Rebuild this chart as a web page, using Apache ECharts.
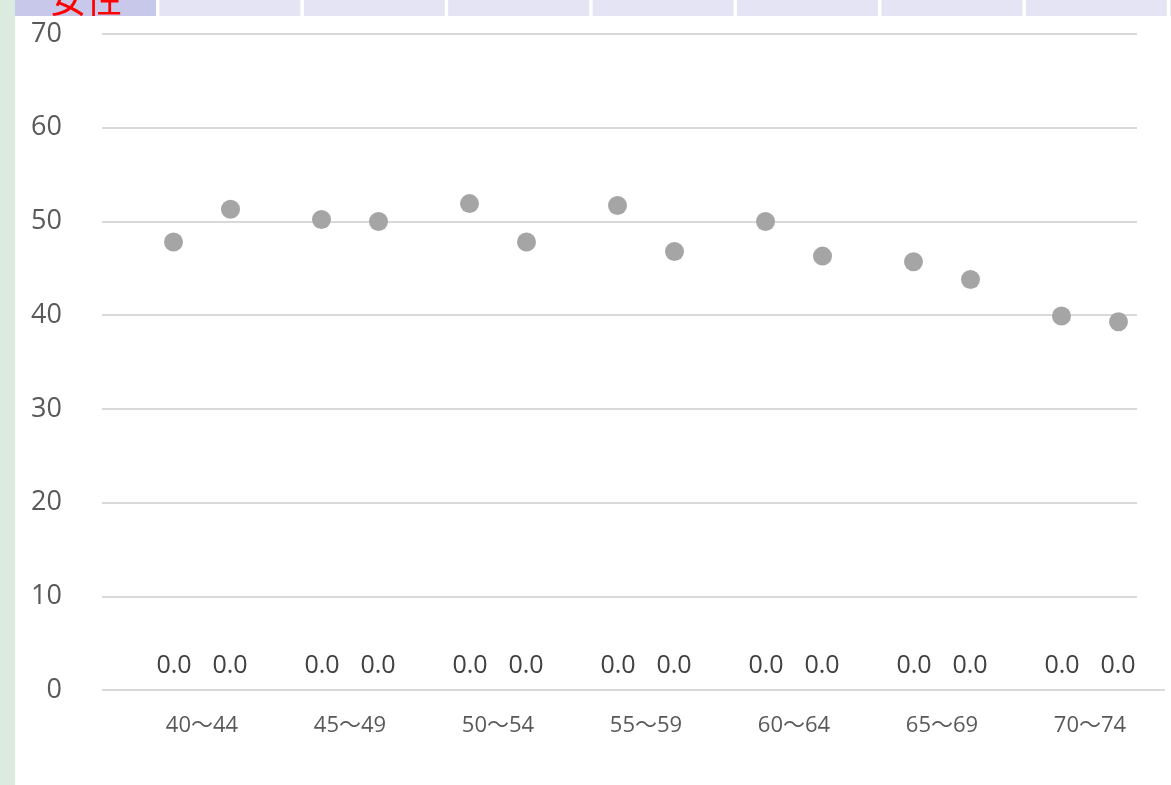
<!DOCTYPE html>
<html>
<head>
<meta charset="utf-8">
<script src="https://cdn.jsdelivr.net/npm/echarts@6/dist/echarts.min.js"></script>
<style>
html, body { margin: 0; padding: 0; background: #fff; }
#main { width: 1171px; height: 785px; }
</style>
</head>
<body>
<div id="main"></div>
<script>
// 年齢階級
var categories = ['40〜44', '45〜49', '50〜54', '55〜59', '60〜64', '65〜69', '70〜74'];
// left / right dot of each age group
var seriesA = [47.8, 50.2, 51.9, 51.7, 50.0, 45.7, 39.9];
var seriesB = [51.3, 50.0, 47.8, 46.8, 46.3, 43.8, 39.3];
// the "0.0" labels sitting on the axis
var zeroA = [0, 0, 0, 0, 0, 0, 0];
var zeroB = [0, 0, 0, 0, 0, 0, 0];
var yTicks = { min: 0, max: 70, interval: 10 };
var headerTitle = '女性';

var font = '"Open Sans", "Noto Sans CJK JP", sans-serif';
var myChart = echarts.init(document.getElementById('main'));

// header strip like the spreadsheet tabs
var graphics = [{
    type: 'rect', shape: { x: 0, y: 0, width: 15, height: 785 },
    style: { fill: '#dcebe0' }, silent: true
}];
for (var i = 0; i < 9; i++) {
    graphics.push({
        type: 'rect',
        shape: { x: 15 + i * 144.4, y: 0, width: 141, height: 16 },
        style: { fill: i === 0 ? '#c8c8ea' : '#e4e4f4' },
        silent: true
    });
}
graphics.push({
    type: 'text', x: 86, y: 17,
    style: {
        text: headerTitle, fill: '#ff0000', font: '36px "Noto Sans CJK JP"',
        textAlign: 'center', textVerticalAlign: 'bottom'
    },
    silent: true
});

var zeroLabel = {
    show: true, position: 'top', distance: 12,
    color: '#404040', fontSize: 25, fontFamily: font,
    formatter: function (p) { return p.value.toFixed(1); }
};

var option = {
    animation: false,
    graphic: graphics,
    grid: [{
        left: 102, right: 34, top: 34, bottom: 95
    }, {
        left: 128, right: 7, top: 34, bottom: 95
    }],
    xAxis: [{
        type: 'category', gridIndex: 0, data: categories, show: false
    }, {
        type: 'category', gridIndex: 1, data: categories,
        axisLine: { lineStyle: { color: '#d9d9d9', width: 2 } },
        axisTick: { show: false },
        axisLabel: { color: '#595959', fontSize: 22, fontFamily: font, margin: 25 }
    }],
    yAxis: [{
        type: 'value', gridIndex: 0,
        min: yTicks.min, max: yTicks.max, interval: yTicks.interval,
        axisLine: { show: false }, axisTick: { show: false },
        axisLabel: { color: '#595959', fontSize: 27, fontFamily: font, margin: 40 },
        splitLine: { lineStyle: { color: '#d9d9d9', width: 2 } }
    }, {
        type: 'value', gridIndex: 1,
        min: yTicks.min, max: yTicks.max, interval: yTicks.interval,
        show: false, splitLine: { show: false }
    }],
    series: [{
        type: 'bar', xAxisIndex: 1, yAxisIndex: 1, data: zeroA,
        barWidth: 28, barGap: '100%',
        itemStyle: { color: 'transparent' },
        label: zeroLabel
    }, {
        type: 'bar', xAxisIndex: 1, yAxisIndex: 1, data: zeroB,
        barWidth: 28, barGap: '100%',
        itemStyle: { color: 'transparent' },
        label: zeroLabel
    }, {
        type: 'scatter', xAxisIndex: 1, yAxisIndex: 1, data: seriesA,
        symbolSize: 19, symbolOffset: [-28.5, 0],
        itemStyle: { color: '#a5a5a5', opacity: 1 }
    }, {
        type: 'scatter', xAxisIndex: 1, yAxisIndex: 1, data: seriesB,
        symbolSize: 19, symbolOffset: [28.5, 0],
        itemStyle: { color: '#a5a5a5', opacity: 1 }
    }]
};

myChart.setOption(option);
</script>
</body>
</html>
